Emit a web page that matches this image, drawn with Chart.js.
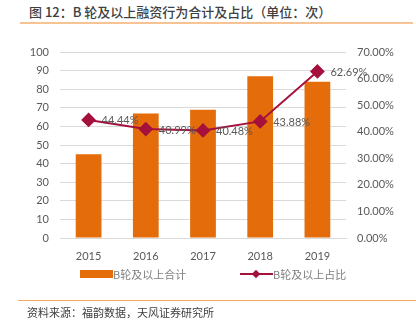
<!DOCTYPE html>
<html>
<head>
<meta charset="utf-8">
<script src="https://cdn.jsdelivr.net/npm/chart.js@4.4.0/dist/chart.umd.min.js"></script>
<style>
  body { margin:0; width:416px; height:330px; overflow:hidden; background:#fff; position:relative;
         font-family: "Noto Sans CJK SC", sans-serif; }
  #title { position:absolute; left:29px; top:2px; font-size:13px; font-weight:500; color:#404040; white-space:nowrap; }
  #topline { position:absolute; left:20px; top:22px; width:393px; height:2px; background:#f7c393; }
  #botline { position:absolute; left:18px; top:300px; width:398px; height:1px; background:#f5a860; }
  #source { position:absolute; left:27px; top:304px; font-size:11px; color:#404040; white-space:nowrap; }
  #wrap { position:absolute; left:0; top:0; width:416px; height:330px; }
  .leg { position:absolute; top:264px; font-size:11px; color:#7f7f7f; white-space:nowrap; }
</style>
</head>
<body>
<div id="title">图 12：B 轮及以上融资行为合计及占比（单位：次）</div>
<div id="topline"></div>
<div id="wrap"><canvas id="c" width="416" height="330"></canvas></div>
<div class="leg" style="left:80px;">
  <span style="display:inline-block;width:33px;height:8px;background:#e46c0a;vertical-align:middle;"></span><span style="vertical-align:middle;">B轮及以上合计</span>
</div>
<div class="leg" style="left:240px;">
  <span style="display:inline-block;position:relative;width:33px;height:8px;vertical-align:middle;">
    <span style="position:absolute;left:0;top:3px;width:33px;height:2px;background:#a5103c;"></span>
    <span style="position:absolute;left:13px;top:1px;width:6px;height:6px;background:#a5103c;transform:rotate(45deg);"></span>
  </span><span style="vertical-align:middle;">B轮及以上占比</span>
</div>
<div id="botline"></div>
<div id="source">资料来源：福韵数据，天风证券研究所</div>
<script>
const years = ['2015', '2016', '2017', '2018', '2019'];
const totalCount = [45, 67, 69, 87, 84];
const shareRatio = [0.4444, 0.4099, 0.4048, 0.4388, 0.6269];
const shareLabels = ['44.44%', '40.99%', '40.48%', '43.88%', '62.69%'];

const numFont = { family: 'Lato, "Open Sans", sans-serif', size: 11 };

// labels next to each line point
const pointLabels = {
  id: 'pointLabels',
  afterDatasetsDraw(chart) {
    const meta = chart.getDatasetMeta(0);
    const ctx = chart.ctx;
    ctx.save();
    ctx.font = '11px Lato, "Open Sans", sans-serif';
    ctx.fillStyle = '#595959';
    ctx.textAlign = 'left';
    ctx.textBaseline = 'middle';
    meta.data.forEach((pt, i) => {
      ctx.fillText(shareLabels[i], pt.x + 13, pt.y + 1);
    });
    ctx.restore();
  }
};

const config = {
  data: {
    labels: years,
    datasets: [{
      type: 'line',
      label: 'B轮及以上占比',
      data: shareRatio,
      yAxisID: 'y1',
      borderColor: '#a5103c',
      backgroundColor: '#a5103c',
      borderWidth: 2,
      pointStyle: 'rectRot',
      pointRadius: 6,
      pointHoverRadius: 6,
      tension: 0,
      order: 0
    }, {
      type: 'bar',
      label: 'B轮及以上合计',
      data: totalCount,
      yAxisID: 'y',
      backgroundColor: '#e46c0a',
      borderWidth: 0,
      categoryPercentage: 1,
      barPercentage: 0.45,
      order: 1
    }]
  },
  options: {
    responsive: false,
    animation: false,
    layout: { padding: { top: 52, bottom: 62, left: 0, right: 0 } },
    plugins: { legend: { display: false }, tooltip: { enabled: false } },
    scales: {
      x: {
        grid: { display: false },
        border: { display: true, color: '#d9d9d9' },
        ticks: { color: '#595959', font: numFont, padding: 4 },
        afterFit(s) { s.height = 30; }
      },
      y: {
        position: 'left',
        min: 0, max: 100,
        ticks: { stepSize: 10, color: '#595959', font: numFont, padding: 11 },
        grid: { color: '#d9d9d9', drawTicks: false },
        border: { display: false },
        afterFit(s) { s.width = 60; }
      },
      y1: {
        position: 'right',
        min: 0, max: 0.7,
        ticks: { stepSize: 0.1, color: '#595959', font: numFont, padding: 11,
                 callback: v => (v * 100).toFixed(2) + '%' },
        grid: { display: false, drawTicks: false },
        border: { display: false },
        afterFit(s) { s.width = 70; }
      }
    }
  },
  plugins: [pointLabels]
};

const chart = new Chart('c', config);
</script>
</body>
</html>
